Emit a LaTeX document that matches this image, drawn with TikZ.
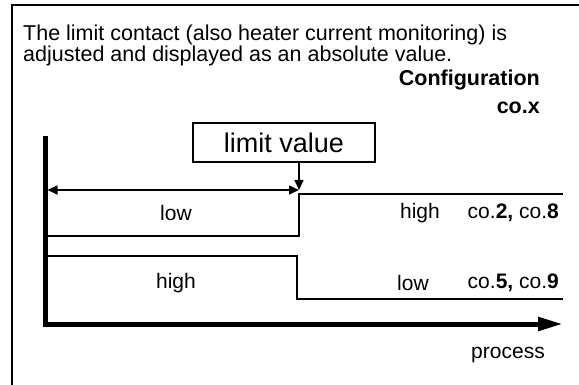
\documentclass[tikz,border=0pt]{standalone}
\usepackage{fontspec}
\setmainfont{Liberation Sans}
\usetikzlibrary{arrows.meta}
\begin{document}
\begin{tikzpicture}[x=1pt,y=-1pt,
  txt/.style={font=\fontsize{21}{25}\selectfont, inner sep=0pt},
  headtxt/.style={font=\fontsize{21.5}{25}\selectfont, inner sep=0pt},
  boldtxt/.style={font=\fontsize{21.5}{25}\selectfont\bfseries, inner sep=0pt},
  frame/.style={line width=2pt},
  sig/.style={line width=2.5pt, line join=miter},
  axisline/.style={line width=5pt, line join=miter, -{Triangle[length=25pt,width=13pt]}},
  dimarrow/.style={line width=1.6pt, {Triangle[length=10pt,width=9pt]}-{Triangle[length=10pt,width=9pt]}},
  ptr/.style={line width=1.6pt, -{Triangle[length=10pt,width=9pt]}},
  limitbox/.style={draw, line width=2pt, minimum width=182pt, minimum height=39pt, inner sep=0pt, font=\fontsize{27}{31}\selectfont}]
\useasboundingbox (0,0) rectangle (579,385);
% outer frame (top and left)
\coordinate (FTR) at (579,5);
\coordinate (FTL) at (12,5);
\coordinate (FBL) at (12,385);
\draw[frame] (FTR) -- (FTL) -- (FBL);
% header text
\node[headtxt, anchor=west] (t1) at (23,35) {The limit contact (also heater current monitoring) is};
\node[headtxt, anchor=west] (t2) at (23,56) {adjusted and displayed as an absolute value.};
\node[boldtxt, anchor=east] (cfg) at (540,80) {Configuration};
\node[boldtxt, anchor=east] (cox) at (540,108) {co.x};
% limit value box
\node[limitbox] (lv) at (284,143) {limit value};
% axes
\coordinate (Ytop) at (45,136);
\coordinate (O) at (45,324);
\coordinate (Xend) at (563,324);
\draw[axisline] (Ytop) -- (O) -- (Xend);
% dimension arrow and pointer
\coordinate (DA) at (47.5,190);
\coordinate (DB) at (299,190);
\draw[dimarrow] (DA) -- (DB);
\draw[ptr] (lv.south -| DB) -- (DB);
% signal 1
\coordinate (S1a) at (46,236);
\coordinate (S1b) at (299,236);
\coordinate (S1c) at (299,194);
\coordinate (S1d) at (563,194);
\draw[sig] (S1a) -- (S1b) -- (S1c) -- (S1d);
% signal 2
\coordinate (S2a) at (46,256);
\coordinate (S2b) at (297,256);
\coordinate (S2c) at (297,299);
\coordinate (S2d) at (563,299);
\draw[sig] (S2a) -- (S2b) -- (S2c) -- (S2d);
% labels
\node[txt] (low1) at (176,213) {low};
\node[txt] (high1) at (420,213) {high};
\node[txt, anchor=east] (co28) at (559,213) {co.\textbf{2,} co.\textbf{8}};
\node[txt] (high2) at (176,283) {high};
\node[txt] (low2) at (413,283) {low};
\node[txt, anchor=east] (co59) at (559,283) {co.\textbf{5,} co.\textbf{9}};
\node[txt] (proc) at (508,355) {process};
\end{tikzpicture}
\end{document}
